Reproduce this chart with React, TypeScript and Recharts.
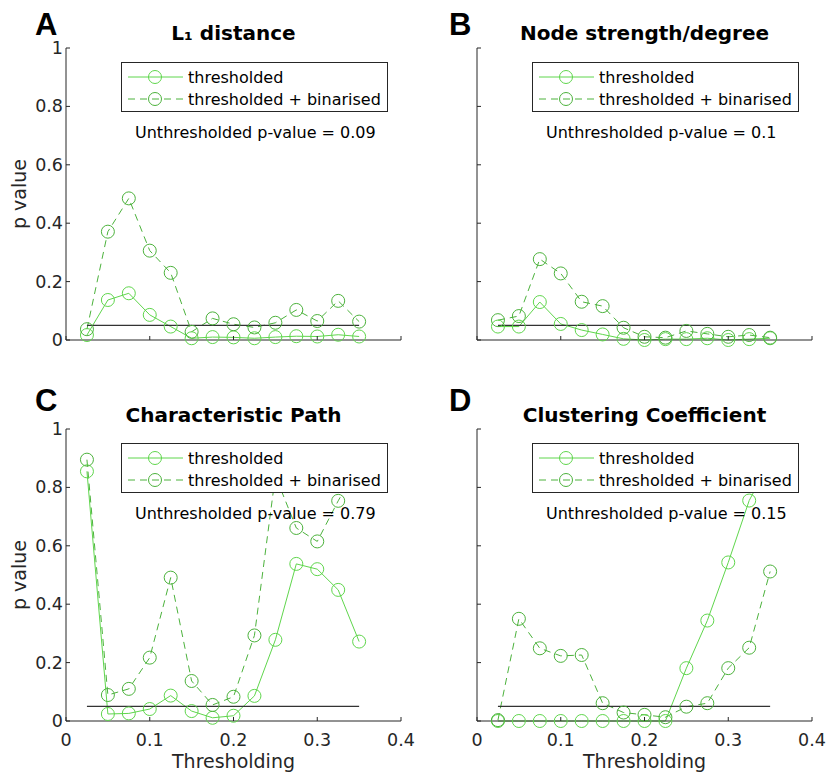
import { Legend, Line, LineChart, ReferenceLine, XAxis, YAxis } from "recharts"

const THRESHOLDS = [0.025, 0.05, 0.075, 0.1, 0.125, 0.15, 0.175, 0.2, 0.225, 0.25, 0.275, 0.3, 0.325, 0.35]
const X_TICKS = [0, 0.1, 0.2, 0.3, 0.4]
const Y_TICKS = [0, 0.2, 0.4, 0.6, 0.8, 1]
const ALPHA = 0.05

const L1_THRESHOLDED = [0.017, 0.137, 0.16, 0.086, 0.046, 0.006, 0.01, 0.009, 0.006, 0.01, 0.013, 0.012, 0.018, 0.012]
const L1_BINARISED = [0.037, 0.371, 0.485, 0.306, 0.23, 0.028, 0.074, 0.054, 0.043, 0.059, 0.103, 0.065, 0.134, 0.063]
const STRENGTH_THRESHOLDED = [0.046, 0.046, 0.13, 0.055, 0.034, 0.019, 0.004, 0, 0.003, 0.003, 0.006, 0, 0.003, 0.006]
const STRENGTH_BINARISED = [0.068, 0.082, 0.277, 0.228, 0.131, 0.116, 0.042, 0.011, 0.008, 0.031, 0.021, 0.011, 0.017, 0.008]
const PATH_THRESHOLDED = [0.855, 0.024, 0.026, 0.041, 0.087, 0.034, 0.011, 0.018, 0.086, 0.278, 0.538, 0.52, 0.449, 0.272]
const PATH_BINARISED = [0.895, 0.089, 0.11, 0.217, 0.491, 0.137, 0.055, 0.083, 0.293, 0.84, 0.661, 0.615, 0.754, 0.88]
const CLUSTERING_THRESHOLDED = [0, 0, 0, 0, 0, 0, 0, 0, 0, 0.181, 0.344, 0.543, 0.755, 0.89]
const CLUSTERING_BINARISED = [0.003, 0.35, 0.249, 0.223, 0.226, 0.061, 0.029, 0.021, 0.013, 0.049, 0.061, 0.181, 0.251, 0.512]

const SERIES_LABELS = ["thresholded", "thresholded + binarised"]

const PANELS = [
  { letter: "A", title: "L₁ distance", pValue: "0.09", thresholded: L1_THRESHOLDED, binarised: L1_BINARISED },
  { letter: "B", title: "Node strength/degree", pValue: "0.1", thresholded: STRENGTH_THRESHOLDED, binarised: STRENGTH_BINARISED },
  { letter: "C", title: "Characteristic Path", pValue: "0.79", thresholded: PATH_THRESHOLDED, binarised: PATH_BINARISED },
  { letter: "D", title: "Clustering Coefficient", pValue: "0.15", thresholded: CLUSTERING_THRESHOLDED, binarised: CLUSTERING_BINARISED },
]

// plot-area corners for each panel (left, top), in page px
const LAYOUT = [
  { left: 66, top: 48, letterX: 35, letterY: 35, titleY: 40, xLabels: false, yLabels: true },
  { left: 477, top: 48, letterX: 449, letterY: 35, titleY: 40, xLabels: false, yLabels: false },
  { left: 66, top: 429, letterX: 35, letterY: 411, titleY: 422, xLabels: true, yLabels: true },
  { left: 477, top: 429, letterX: 449, letterY: 411, titleY: 422, xLabels: true, yLabels: false },
]

const PLOT_W = 335
const PLOT_H = 292
const Y_AXIS_W = 60
const MARGIN_TOP = 10
const MARGIN_RIGHT = 15
const X_AXIS_H = 60

const FONT = "'DejaVu Sans', sans-serif"
const AXIS_COLOR = "#262626"
const SOLID_COLOR = "#5fd64c"
const DASHED_COLOR = "#4cb23c"
const TICK_LEN = 4

const axisLine = { stroke: AXIS_COLOR, strokeWidth: 1 }

function BottomTick({ x, y, payload, showLabel }: any) {
  return (
    <g>
      <line x1={x} y1={y} x2={x} y2={y - TICK_LEN} stroke={AXIS_COLOR} />
      {showLabel && (
        <text x={x} y={y + 25} textAnchor="middle" fontSize={17.5} fontFamily={FONT} fill={AXIS_COLOR}>
          {payload.value}
        </text>
      )}
    </g>
  )
}

function TopTick({ x, y }: any) {
  return <line x1={x} y1={y} x2={x} y2={y + TICK_LEN} stroke={AXIS_COLOR} />
}

function LeftTick({ x, y, payload, showLabel }: any) {
  return (
    <g>
      <line x1={x} y1={y} x2={x + TICK_LEN} y2={y} stroke={AXIS_COLOR} />
      {showLabel && (
        <text x={x - 3} y={y + 6} textAnchor="end" fontSize={17.5} fontFamily={FONT} fill={AXIS_COLOR}>
          {payload.value}
        </text>
      )}
    </g>
  )
}

function RightTick({ x, y }: any) {
  return <line x1={x} y1={y} x2={x - TICK_LEN} y2={y} stroke={AXIS_COLOR} />
}

function PanelLegend() {
  const rows = [
    { label: SERIES_LABELS[0], color: SOLID_COLOR, dash: undefined, y: 15 },
    { label: SERIES_LABELS[1], color: DASHED_COLOR, dash: "7 5", y: 37 },
  ]
  return (
    <div
      style={{
        width: 267,
        height: 50,
        boxSizing: "border-box",
        border: `1px solid ${AXIS_COLOR}`,
        background: "#fff",
      }}
    >
      <svg width={265} height={48} style={{ display: "block" }}>
        {rows.map((row) => (
          <g key={row.label}>
            <line x1={6} y1={row.y - 1} x2={61} y2={row.y - 1} stroke={row.color} strokeDasharray={row.dash} />
            <circle cx={33} cy={row.y - 1} r={6.5} fill="none" stroke={row.color} />
            <text x={66} y={row.y + 5} fontSize={16} fontFamily={FONT} fill="#000">
              {row.label}
            </text>
          </g>
        ))}
      </svg>
    </div>
  )
}

function Panel({ panel, layout }: any) {
  const data = THRESHOLDS.map((x, i) => ({
    x,
    thresholded: panel.thresholded[i],
    binarised: panel.binarised[i],
  }))

  return (
    <div style={{ position: "absolute", left: layout.left - Y_AXIS_W, top: layout.top - MARGIN_TOP }}>
      <LineChart
        width={Y_AXIS_W + PLOT_W + MARGIN_RIGHT}
        height={MARGIN_TOP + PLOT_H + X_AXIS_H}
        data={data}
        margin={{ top: MARGIN_TOP, right: MARGIN_RIGHT, bottom: 0, left: 0 }}
      >
        <XAxis
          dataKey="x"
          type="number"
          domain={[0, 0.4]}
          ticks={X_TICKS}
          interval={0}
          height={X_AXIS_H}
          tickSize={0}
          tickMargin={0}
          tickLine={false}
          axisLine={axisLine}
          tick={(p: any) => <BottomTick {...p} showLabel={layout.xLabels} />}
        />
        <XAxis
          xAxisId="top"
          orientation="top"
          dataKey="x"
          type="number"
          domain={[0, 0.4]}
          ticks={X_TICKS}
          interval={0}
          height={0}
          tickSize={0}
          tickMargin={0}
          tickLine={false}
          axisLine={axisLine}
          tick={(p: any) => <TopTick {...p} />}
        />
        <YAxis
          type="number"
          domain={[0, 1]}
          ticks={Y_TICKS}
          interval={0}
          width={Y_AXIS_W}
          tickSize={0}
          tickMargin={0}
          tickLine={false}
          axisLine={axisLine}
          tick={(p: any) => <LeftTick {...p} showLabel={layout.yLabels} />}
        />
        <YAxis
          yAxisId="right"
          orientation="right"
          type="number"
          domain={[0, 1]}
          ticks={Y_TICKS}
          interval={0}
          width={0}
          tickSize={0}
          tickMargin={0}
          tickLine={false}
          axisLine={axisLine}
          tick={(p: any) => <RightTick {...p} />}
        />
        <Line
          dataKey="thresholded"
          stroke={SOLID_COLOR}
          strokeWidth={1}
          dot={{ r: 6.5, fill: "none", stroke: SOLID_COLOR, strokeWidth: 1 }}
          activeDot={false}
          isAnimationActive={false}
        />
        <Line
          dataKey="binarised"
          stroke={DASHED_COLOR}
          strokeWidth={1}
          strokeDasharray="7 5"
          dot={{ r: 6.5, fill: "none", stroke: DASHED_COLOR, strokeWidth: 1, strokeDasharray: "none" }}
          activeDot={false}
          isAnimationActive={false}
        />
        <ReferenceLine
          segment={[
            { x: THRESHOLDS[0], y: ALPHA },
            { x: THRESHOLDS[THRESHOLDS.length - 1], y: ALPHA },
          ]}
          stroke="#333"
          strokeWidth={1.2}
        />
        <Legend
          layout="horizontal"
          verticalAlign="middle"
          align="center"
          wrapperStyle={{ left: Y_AXIS_W + 55, top: MARGIN_TOP + 14, width: 267, height: 50 }}
          content={() => <PanelLegend />}
        />
      </LineChart>
    </div>
  )
}

export default function App() {
  return (
    <div style={{ position: "absolute", left: 0, top: 0, width: 833, height: 774, background: "#fff", overflow: "hidden" }}>
      {PANELS.map((panel, i) => (
        <Panel key={panel.letter} panel={panel} layout={LAYOUT[i]} />
      ))}
      <svg width={833} height={774} style={{ position: "absolute", left: 0, top: 0, pointerEvents: "none" }}>
        {PANELS.map((panel, i) => {
          const l = LAYOUT[i]
          const cx = l.left + PLOT_W / 2
          return (
            <g key={panel.letter} fontFamily={FONT}>
              <text x={l.letterX} y={l.letterY} fontSize={31} fontWeight="bold" fontFamily="'Liberation Sans', Arial, sans-serif">
                {panel.letter}
              </text>
              <text x={cx} y={l.titleY} textAnchor="middle" fontSize={20} fontWeight="bold">
                {panel.title}
              </text>
              <text x={l.left + 69} y={l.top + 90} fontSize={16}>
                {`Unthresholded p-value = ${panel.pValue}`}
              </text>
              {l.xLabels && (
                <text x={cx} y={l.top + PLOT_H + 47} textAnchor="middle" fontSize={19} fill={AXIS_COLOR}>
                  Thresholding
                </text>
              )}
              {l.yLabels && (
                <text
                  x={26}
                  y={l.top + PLOT_H / 2}
                  textAnchor="middle"
                  fontSize={19}
                  fill={AXIS_COLOR}
                  transform={`rotate(-90, 26, ${l.top + PLOT_H / 2})`}
                >
                  p value
                </text>
              )}
            </g>
          )
        })}
      </svg>
    </div>
  )
}
